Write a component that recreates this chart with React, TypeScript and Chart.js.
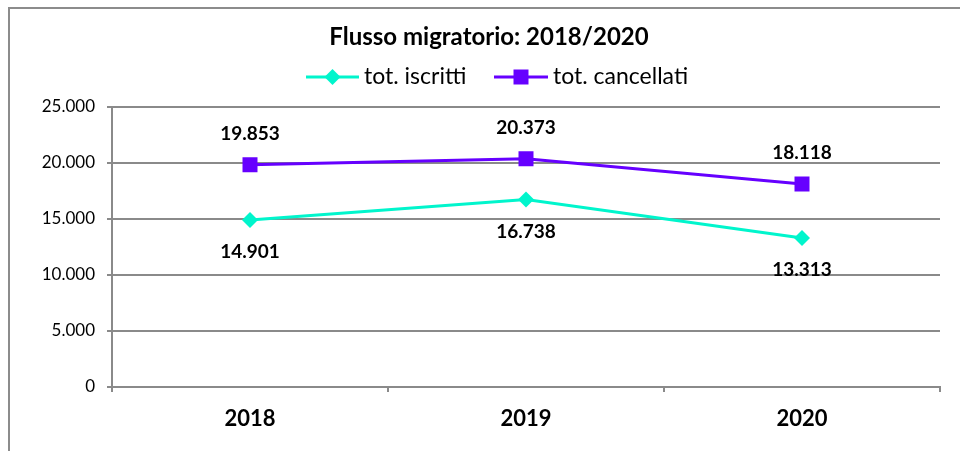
import React, { useEffect, useRef } from "react";
import { Chart, registerables } from "chart.js";

Chart.register(...registerables);

const categories = ["2018", "2019", "2020"];
const iscritti = [14901, 16738, 13313];
const cancellati = [19853, 20373, 18118];
const seriesNames = ["tot. iscritti", "tot. cancellati"];
const titleText = "Flusso migratorio: 2018/2020";

const CYAN = "#00F5CC";
const PURPLE = "#6600FF";
const GRID = "#8a8a8a";
const FONT = "Lato";

const fmt = (v: number) =>
  String(Math.round(v)).replace(/\B(?=(\d{3})+(?!\d))/g, ".");

function drawMarker(ctx: CanvasRenderingContext2D, style: string, x: number, y: number, color: string) {
  ctx.save();
  ctx.fillStyle = color;
  ctx.beginPath();
  if (style === "rectRot") {
    const r = 8;
    ctx.moveTo(x - r, y);
    ctx.lineTo(x, y - r);
    ctx.lineTo(x + r, y);
    ctx.lineTo(x, y + r);
    ctx.closePath();
  } else {
    const s = 7.5;
    ctx.rect(x - s, y - s, 2 * s, 2 * s);
  }
  ctx.fill();
  ctx.restore();
}

const framePlugin = {
  id: "frame",
  beforeDraw(chart: any) {
    const ctx = chart.ctx;
    ctx.save();
    ctx.fillStyle = "#ffffff";
    ctx.fillRect(0, 0, chart.width, chart.height);
    ctx.strokeStyle = "#8c8c8c";
    ctx.lineWidth = 2;
    ctx.beginPath();
    ctx.moveTo(9, chart.height);
    ctx.lineTo(9, 8);
    ctx.lineTo(chart.width, 8);
    ctx.stroke();
    ctx.restore();
  },
};

const headerPlugin = {
  id: "header",
  afterDraw(chart: any) {
    const ctx = chart.ctx;
    ctx.save();
    ctx.fillStyle = "#000";
    ctx.font = `bold 24px ${FONT}`;
    ctx.textAlign = "center";
    ctx.textBaseline = "middle";
    ctx.fillText(titleText, 489, 37);

    const y = 77;
    const items = [
      { x0: 306, x1: 359, tx: 364, color: CYAN, style: "rectRot", label: seriesNames[0] },
      { x0: 494, x1: 548, tx: 553, color: PURPLE, style: "rect", label: seriesNames[1] },
    ];
    items.forEach((it) => {
      ctx.strokeStyle = it.color;
      ctx.lineWidth = 3;
      ctx.beginPath();
      ctx.moveTo(it.x0, y);
      ctx.lineTo(it.x1, y);
      ctx.stroke();
      drawMarker(ctx, it.style, (it.x0 + it.x1) / 2, y, it.color);
      ctx.fillStyle = "#000";
      ctx.font = `23px ${FONT}`;
      ctx.textAlign = "left";
      ctx.textBaseline = "middle";
      ctx.fillText(it.label, it.tx, y);
    });
    ctx.restore();
  },
};

const dataLabelPlugin = {
  id: "dataLabels",
  afterDatasetsDraw(chart: any) {
    const ctx = chart.ctx;
    ctx.save();
    ctx.font = `bold 19px ${FONT}`;
    ctx.fillStyle = "#000";
    ctx.textAlign = "center";
    ctx.textBaseline = "middle";
    chart.data.datasets.forEach((ds: any, di: number) => {
      const meta = chart.getDatasetMeta(di);
      const off = di === 0 ? 32 : -31;
      meta.data.forEach((pt: any, i: number) => {
        ctx.fillText(fmt(ds.data[i]), pt.x, pt.y + off);
      });
    });
    ctx.restore();
  },
};

export default function App() {
  const ref = useRef<HTMLCanvasElement | null>(null);
  useEffect(() => {
    if (!ref.current) return;
    const chart = new Chart(ref.current, {
      type: "line",
      data: {
        labels: categories,
        datasets: [
          {
            label: seriesNames[0],
            data: iscritti,
            borderColor: CYAN,
            backgroundColor: CYAN,
            borderWidth: 3,
            pointStyle: "rectRot",
            pointRadius: 8,
            pointBorderWidth: 0,
            tension: 0,
          },
          {
            label: seriesNames[1],
            data: cancellati,
            borderColor: PURPLE,
            backgroundColor: PURPLE,
            borderWidth: 3,
            pointStyle: "rect",
            pointRadius: 10.6,
            pointBorderWidth: 0,
            tension: 0,
          },
        ],
      },
      options: {
        responsive: false,
        animation: false,
        layout: { padding: { left: 0, right: 20, top: 107, bottom: 0 } },
        plugins: {
          legend: { display: false },
          tooltip: { enabled: false },
          title: { display: false },
        },
        scales: {
          x: {
            offset: true,
            grid: {
              offset: true,
              drawOnChartArea: false,
              drawTicks: true,
              tickLength: 5,
              color: GRID,
              lineWidth: 2,
            },
            border: { display: true, color: GRID, width: 2 },
            ticks: {
              color: "#000",
              font: { family: FONT, size: 22, weight: "bold" },
              padding: 14,
            },
            afterFit(scale: any) {
              scale.height = 64;
            },
          },
          y: {
            min: 0,
            max: 25000,
            grid: {
              color: GRID,
              lineWidth: 2,
              drawTicks: true,
              tickLength: 5,
            },
            border: { display: true, color: GRID, width: 2 },
            ticks: {
              stepSize: 5000,
              color: "#000",
              font: { family: FONT, size: 17 },
              padding: 12,
              callback: (v: any) => fmt(Number(v)),
            },
            afterFit(scale: any) {
              scale.width = 112;
            },
          },
        },
      },
      plugins: [framePlugin, headerPlugin, dataLabelPlugin],
    });
    return () => chart.destroy();
  }, []);
  return (
    <div style={{ position: "absolute", left: 0, top: 0, width: 960, height: 451 }}>
      <canvas ref={ref} width={960} height={451} style={{ display: "block" }} />
    </div>
  );
}
